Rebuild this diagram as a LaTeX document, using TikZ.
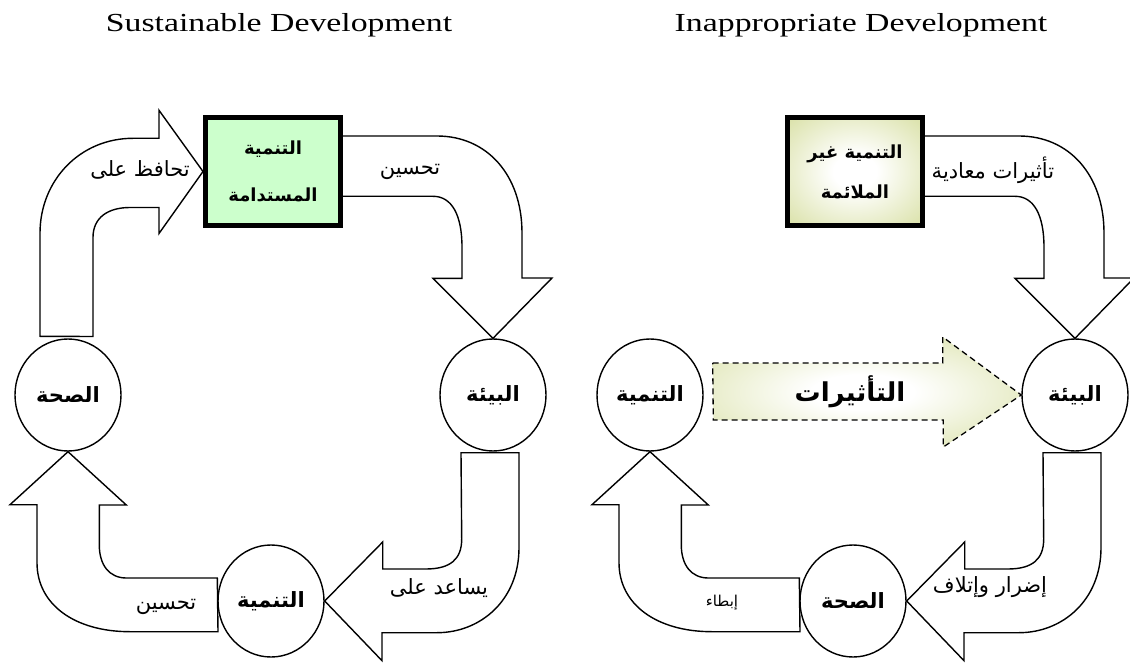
\documentclass[tikz,border=0pt]{standalone}
\usepackage{graphicx}
\usepackage{fontspec}
\setmainfont{Liberation Serif}
\newfontfamily\arabicfont[Script=Arabic]{DejaVu Sans}
\usetikzlibrary{shapes.geometric,backgrounds}
\TeXXeTstate=1
\newcommand{\artxt}[1]{{\arabicfont\beginR #1\endR}}
\newcommand{\wide}[1]{\scalebox{1.3}[1]{#1}}
\definecolor{mintgreen}{HTML}{CCFFCC}
\definecolor{paleolive}{HTML}{D6DE9F}
\pgfdeclareradialshading{glow}{\pgfpoint{0bp}{0bp}}{color(0bp)=(white); color(8bp)=(white); color(38bp)=(paleolive); color(50bp)=(paleolive)}

\begin{document}
\begin{tikzpicture}[x=1pt, y=-1pt,
  title/.style={font=\fontsize{26}{30}\selectfont, anchor=base},
  circ/.style={ellipse, draw, line width=1.4pt, minimum width=106pt, minimum height=112pt, inner sep=0pt, font=\fontsize{21}{24}\selectfont\bfseries},
  topbox/.style={draw, line width=5pt, minimum width=135pt, minimum height=108pt, align=center, font=\fontsize{18}{20}\selectfont\bfseries},
  blk/.style={draw, line width=1.4pt, fill=white, line join=miter},
  lbl/.style={font=\fontsize{21}{24}\selectfont},
  ]

\useasboundingbox (0,0) rectangle (1130,663);

% headings
\node[title] (ttlA) at (279,32) {\wide{Sustainable Development}};
\node[title] (ttlB) at (861,32) {\wide{Inappropriate Development}};

% sustainable cycle
\node[topbox, fill=mintgreen] (sboxA) at (273,171.5) {\artxt{التنمية}\\[27pt]\artxt{المستدامة}};
\node[circ] (healA) at (68,395) {\artxt{الصحة}};
\node[circ] (envA) at (493,395) {\artxt{البيئة}};
\node[circ] (devA) at (271,601) {\artxt{التنمية}};

% inappropriate cycle
\node[topbox, shade, shading=glow] (sboxB) at (855,171.5) {\artxt{التنمية غير}\\[20pt]\artxt{الملائمة}};
\node[circ] (devB) at (650,395) {\artxt{التنمية}};
\node[circ] (envB) at (1075,395) {\artxt{البيئة}};
\node[circ] (healB) at (853,601) {\artxt{الصحة}};

\begin{scope}[on background layer]
\path[blk] (healA.north) ++(-28,-2) -- ++(0,-103) .. controls +(0,-53) and +(-53,0) .. ++(93,-95) -- ++(26,0) -- ++(0,-28)
  -- (sboxA.west) -- ++(-44,62) -- ++(0,-26) -- ++(-29,0) .. controls +(-22,0) and +(0,-20) .. ++(-37,30) -- ++(0,99) -- cycle;
\path[blk] (sboxA.east) ++(-3,-35.5) -- ++(97,0) .. controls +(50,0) and +(0,-58) .. ++(85,97) -- ++(0,45) -- ++(30,0)
  -- (envA.north) -- ++(-60,-60) -- ++(29,0) -- ++(0,-31) .. controls +(0,-32) and +(19,0) .. ++(-29,-51) -- ++(-93,0) -- cycle;
\path[blk] (envA.south) ++(-32,1) -- ++(58,0) -- ++(0,95) .. controls +(0,53) and +(43,0) .. ++(-82,85) -- ++(-55,0) -- ++(0,28)
  -- (devA.east) -- ++(58,-59) -- ++(0,27) -- ++(43,0) .. controls +(25,0) and +(0,20) .. ++(36,-30) -- cycle;
\path[blk] (devA.west) ++(0,-23) -- ++(-91,0) .. controls +(-17,0) and +(0,20) .. ++(-27,-33) -- ++(0,-40) -- ++(27,0)
  -- (healA.south) -- ++(-58,53) -- ++(27,0) -- ++(0,58) .. controls +(0,42) and +(-55,0) .. ++(93,69) -- ++(88,0) -- cycle;

\path[blk] (sboxB.east) ++(-3,-35.5) -- ++(97,0) .. controls +(50,0) and +(0,-58) .. ++(85,97) -- ++(0,45) -- ++(30,0)
  -- (envB.north) -- ++(-60,-60) -- ++(29,0) -- ++(0,-31) .. controls +(0,-32) and +(19,0) .. ++(-29,-51) -- ++(-93,0) -- cycle;
\path[blk] (envB.south) ++(-32,1) -- ++(58,0) -- ++(0,95) .. controls +(0,53) and +(43,0) .. ++(-82,85) -- ++(-55,0) -- ++(0,28)
  -- (healB.east) -- ++(58,-59) -- ++(0,27) -- ++(43,0) .. controls +(25,0) and +(0,20) .. ++(36,-30) -- cycle;
\path[blk] (healB.west) ++(0,-23) -- ++(-91,0) .. controls +(-17,0) and +(0,20) .. ++(-27,-33) -- ++(0,-40) -- ++(27,0)
  -- (devB.south) -- ++(-58,53) -- ++(27,0) -- ++(0,58) .. controls +(0,42) and +(-55,0) .. ++(93,69) -- ++(88,0) -- cycle;
\end{scope}

% impacts arrow
\path[draw, shade, shading=glow, line width=1.3pt, dash pattern=on 6pt off 4pt] (devB.east) ++(9,-32) -- ++(230,0) -- ++(0,-26)
  -- (envB.west) -- ++(-78,52) -- ++(0,-27) -- ++(-230,0) -- cycle;
\node[font=\fontsize{26}{30}\selectfont\bfseries] (impact) at (850,392) {\artxt{التأثيرات}};

% arrow labels
\node[lbl] (keepA) at (140,170) {\artxt{تحافظ على}};
\node[lbl] (betterA) at (410,172) {\artxt{تحسين}};
\node[lbl] (helpA) at (439,588) {\artxt{يساعد على}};
\node[lbl] (betterA2) at (166,607) {\artxt{تحسين}};
\node[lbl] (hostileB) at (993,170) {\artxt{تأثيرات معادية}};
\node[lbl] (harmB) at (990,587) {\artxt{إضرار وإتلاف}};
\node[lbl, font=\fontsize{15}{17}\selectfont] (slowB) at (722,603) {\artxt{إبطاء}};

\end{tikzpicture}
\end{document}
